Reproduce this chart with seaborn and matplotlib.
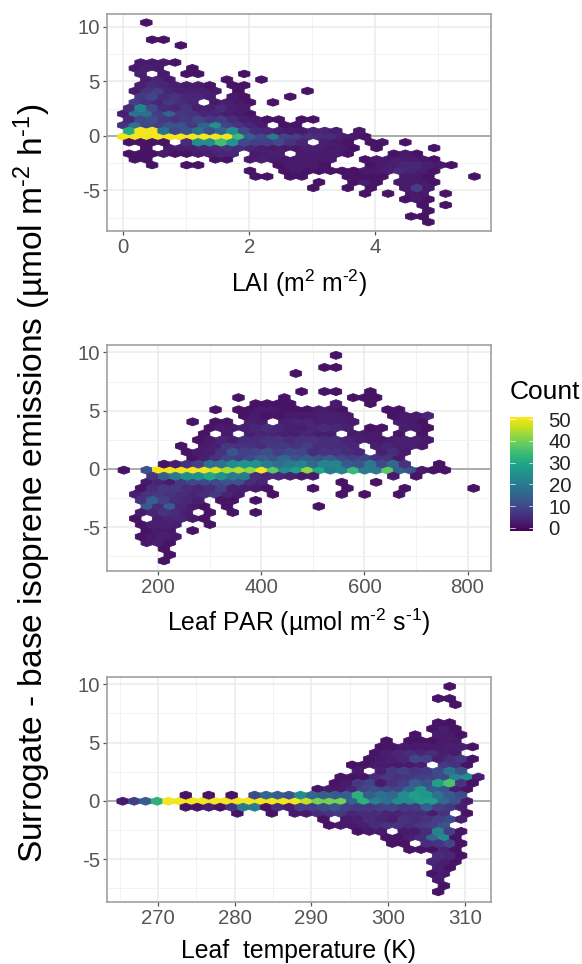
import numpy as np
import pandas as pd
import matplotlib
matplotlib.use("Agg")
import matplotlib.pyplot as plt
from matplotlib.colors import Normalize
from matplotlib.cm import ScalarMappable
import seaborn as sns

# each bin row: (row number, first column, counts from that column on)
lai_bins = [
    (20, 2, [1]), (17, 2, [1, 1]), (16, 5, [1]),
    (13, 1, [2, 2, 2, 1]), (12, 1, [2, 3, 2, 0, 0, 1]),
    (11, 1, [3, 0, 2, 0, 1, 1]), (11, 10, [1]),
    (10, 2, [3, 4, 2]), (10, 9, [1]), (10, 12, [1]),
    (9, 1, [3, 5, 4, 3, 2, 2, 1]), (9, 9, [1, 1]),
    (8, 1, [2, 6, 8, 4, 3, 3, 3, 2]), (8, 10, [1]), (8, 16, [1]),
    (7, 1, [7, 9, 5, 6, 4, 4, 3]), (7, 9, [2, 1]), (7, 14, [1]),
    (6, 1, [8, 6, 4, 7, 5, 4]), (6, 8, [2, 3, 2, 1]), (6, 13, [1]),
    (5, 0, [5, 22, 10, 5, 4, 6, 3, 3, 5, 3, 2]),
    (4, 0, [3, 18, 18, 8, 15, 7, 6, 4, 4, 3, 2, 1]),
    (3, 0, [4, 10, 11, 7, 6, 7, 9, 7, 8, 5, 3, 2, 1, 1]), (3, 15, [1, 1]),
    (2, 0, [6, 18, 10, 8, 12, 12, 7, 15, 25, 9, 6, 4, 2, 0, 1, 1]),
    (1, 0, [30, 50, 50, 18, 10, 12, 18, 12, 16, 24, 10, 5, 4, 3, 2, 2, 4, 4, 3, 0, 2]),
    (0, 0, [50, 50, 50, 50, 50, 50, 50, 50, 50, 50, 34, 14, 10, 20, 9, 8, 6, 5, 5, 3, 2, 1]),
    (-1, 0, [1, 1, 1, 1, 0, 5, 24, 24, 35, 26, 10, 8, 8, 10, 6, 4, 0, 3, 2, 1, 0, 1, 1, 0, 1]),
    (-2, 2, [1, 0, 2, 3, 3, 4, 5, 6, 5, 4, 3, 2, 2, 2, 3, 3, 2, 2, 1]), (-2, 22, [1]), (-2, 27, [1]),
    (-3, 0, [1, 1, 1, 2, 1, 1, 2, 3, 4, 4, 0, 2, 3, 3, 0, 2, 2, 2, 2, 1]), (-3, 23, [1, 2, 1]),
    (-4, 1, [1, 1]), (-4, 8, [1, 1]), (-4, 11, [2, 3, 2, 2, 2, 2, 2, 2]), (-4, 21, [1, 2, 2, 3, 3, 2, 1]),
    (-5, 2, [1]), (-5, 5, [1, 1]), (-5, 13, [1, 2, 2, 2, 1]), (-5, 21, [1, 2, 3, 4, 4, 3, 2, 1]),
    (-6, 11, [1]), (-6, 14, [1, 2, 1, 1, 1]), (-6, 19, [1, 1, 2, 2, 3, 5, 4, 3, 1]),
    (-7, 11, [1, 1]), (-7, 14, [1, 1]), (-7, 19, [1, 1, 1, 1]), (-7, 24, [2, 2, 1]), (-7, 30, [1]),
    (-8, 17, [1]), (-8, 20, [1, 3, 1]), (-8, 24, [2, 2, 2, 1]),
    (-9, 16, [1]), (-9, 19, [1]), (-9, 21, [1]), (-9, 24, [2, 8, 2]),
    (-10, 21, [1]), (-10, 23, [1]), (-10, 25, [2, 2]), (-10, 28, [1]),
    (-11, 24, [1, 2, 1]), (-12, 26, [1]), (-12, 28, [1]), (-13, 26, [1]),
    (-14, 25, [1, 1]), (-15, 26, [1]),
]

par_bins = [
    (19, 18, [1]), (17, 17, [1, 1]), (16, 15, [1]),
    (13, 15, [1]), (13, 17, [1, 1]), (13, 21, [1]),
    (12, 10, [1]), (12, 14, [1]), (12, 20, [1, 1, 1]),
    (11, 11, [1, 1, 1, 1]), (11, 18, [2]), (11, 21, [1]),
    (10, 8, [1]), (10, 10, [1, 1, 2, 2, 1, 1, 1, 2, 2, 1]), (10, 23, [1, 1]),
    (9, 10, [1, 2, 1, 1, 2, 2, 2, 3, 3, 2]), (9, 23, [1, 2, 2, 4]),
    (8, 6, [1]), (8, 8, [1, 1]), (8, 11, [3, 2, 0, 3, 4, 4, 3, 3, 3, 2]), (8, 24, [2, 2, 1]),
    (7, 7, [1, 2, 2, 3, 4, 5, 4, 3, 3, 4, 5, 4, 3]), (7, 21, [1, 1]), (7, 24, [3, 2, 1]),
    (6, 7, [1, 0, 2, 0, 3, 4, 4, 3, 3, 4, 3, 3]), (6, 20, [2, 2, 2]), (6, 24, [1, 0, 1]),
    (5, 6, [1, 2, 4, 3, 5, 5, 6, 6, 5, 6, 6, 5, 5, 4, 3, 2, 2, 3, 3, 3, 2]),
    (4, 5, [1, 0, 2, 3, 7, 6, 6, 5, 7, 7, 6, 8, 5, 5, 5, 4, 0, 3, 4, 3, 3, 2]),
    (3, 5, [1, 2, 3, 6, 12, 8, 9, 11, 8, 10, 9, 5, 6, 6, 5, 4, 0, 3, 5, 2]),
    (2, 6, [1, 3, 6, 9, 8, 10, 14, 12, 16, 12, 14, 12, 14, 10, 8, 9, 6, 6, 2]),
    (1, 3, [1, 3, 6, 8, 18, 18, 24, 26, 25, 20, 17, 20, 22, 16, 22, 22, 13, 12, 20, 10, 16, 6, 0, 0, 1]),
    (0, 0, [1, 0, 12, 50, 50, 50, 50, 50, 48, 44, 45, 42, 50, 38, 24, 28, 42, 30, 20, 22, 34, 20, 20, 38, 15, 12, 2, 1, 1]),
    (-1, 2, [6, 14, 20, 24, 25, 30, 25, 20, 20, 5, 4, 4, 3, 2, 2]), (-1, 23, [2]), (-1, 25, [1]),
    (-2, 2, [2, 4, 2, 7, 10, 10, 10, 12, 12, 5, 4]), (-2, 19, [1]), (-2, 22, [1]),
    (-3, 1, [1, 5, 7, 7, 5, 4, 5, 8, 3, 3, 2, 1]), (-3, 16, [1]), (-3, 19, [1]), (-3, 24, [1]), (-3, 30, [1]),
    (-4, 1, [3, 6, 7, 6, 5, 4, 5, 7, 4, 2, 0, 0, 1]), (-4, 19, [1]), (-4, 21, [1]), (-4, 24, [1]),
    (-5, 1, [6, 14, 8, 5, 4, 3]), (-5, 8, [1, 1]), (-5, 11, [1]),
    (-6, 2, [13, 5, 14, 4, 2, 1]), (-6, 9, [1]), (-6, 17, [1]),
    (-7, 1, [2, 4, 6, 5, 3]), (-7, 7, [1]), (-7, 9, [1]), (-7, 11, [1]),
    (-8, 1, [1, 0, 3, 4, 4, 2, 1]), (-9, 1, [1, 3, 3, 3]), (-9, 7, [1]),
    (-10, 2, [1, 2, 2]), (-10, 6, [1]), (-11, 1, [1, 2, 3, 2]),
    (-12, 2, [2, 3, 1]), (-13, 3, [1]), (-14, 4, [1]), (-15, 3, [1]),
]

temp_bins = [
    (19, 28, [1]), (17, 27, [1, 1]), (16, 29, [1]),
    (13, 27, [1, 1]), (12, 27, [1, 3, 1]), (11, 25, [1]), (11, 27, [2, 2, 1]),
    (10, 23, [1]), (10, 25, [1, 1, 1, 2, 2]),
    (9, 22, [1, 1, 2, 2, 2, 2, 3, 3, 1]),
    (8, 22, [1, 3, 4, 5, 4, 5, 3, 2]),
    (7, 21, [1, 2, 3, 4, 9, 8, 3, 5, 7, 1]),
    (6, 20, [1, 1, 2, 2, 2, 2, 3, 0, 7, 6, 1]),
    (5, 20, [2, 0, 3, 7, 8, 6, 7, 10, 18, 12]),
    (4, 19, [1, 1, 1, 5, 7, 6, 7, 8, 9, 10, 22, 24, 3]),
    (3, 18, [1, 2, 7, 9, 2, 6, 8, 14, 12, 28, 36, 6, 1]),
    (2, 17, [1, 2, 2, 4, 9, 11, 10, 9, 16, 26, 14, 12, 3, 1]),
    (1, 5, [1, 0, 1, 0, 1, 0, 10, 16, 14, 12, 24, 16, 14, 14, 14, 32, 14, 18, 16, 24, 28, 26, 18, 13, 10]),
    (0, 0, [2, 8, 14, 32, 50, 50, 50, 50, 50, 50, 50, 50, 50, 50, 50, 50, 46, 40, 40, 40, 15, 32, 22, 18, 24, 24, 28, 28, 16, 12, 2]),
    (-1, 5, [1, 1, 3, 1, 6, 20, 20, 1, 5, 3, 8, 8, 10, 12, 8, 7, 7, 8, 9, 7, 7, 14, 8, 7, 3]),
    (-2, 10, [1]), (-2, 13, [1]), (-2, 15, [2, 2, 5, 6, 7, 4, 5, 5, 4, 4, 5, 5, 3, 6]), (-2, 30, [1]),
    (-3, 17, [1, 0, 2, 3, 5, 4, 3, 6, 5, 6, 8, 10, 3]),
    (-4, 18, [1, 2, 2, 3, 5, 6, 6, 5, 7, 8, 12]),
    (-5, 20, [1, 2, 2, 0, 2, 2, 5, 22, 8, 1]),
    (-6, 23, [1, 1, 3, 5, 16, 24, 1]),
    (-7, 23, [1, 1, 0, 5, 6, 9, 1]),
    (-8, 25, [1, 1, 1, 4, 1]),
    (-9, 27, [5, 4, 1]), (-10, 27, [4, 3, 1]), (-11, 27, [3, 1]),
    (-12, 27, [1, 2]), (-13, 27, [2]), (-14, 28, [1]), (-15, 27, [1]),
]

# grid of each panel: first column, column step, row 0 height, row step
lai_grid = (0.0, 0.183, -0.06, 0.523)
par_grid = (133.2, 22.25, -0.11, 0.519)
temp_grid = (265.38, 1.497, -0.03, 0.518)

lai_ticks = [0, 2, 4]
par_ticks = [200, 400, 600, 800]
temp_ticks = [270, 280, 290, 300, 310]
y_ticks = [-5, 0, 5, 10]
count_ticks = [0, 10, 20, 30, 40, 50]

sns.set_theme(style="whitegrid")
plt.rcParams["font.family"] = ["Liberation Sans", "DejaVu Sans"]
plt.rcParams["mathtext.fontset"] = "custom"
plt.rcParams["mathtext.rm"] = "Liberation Sans"
plt.rcParams["mathtext.default"] = "rm"
plt.rcParams["axes.unicode_minus"] = False

W, H = 582, 964
cmap = sns.color_palette("viridis", as_cmap=True)
norm = Normalize(vmin=-1.5, vmax=51)


def bins_to_frame(bins, grid):
    x0, dx, y0, dy = grid
    rows = []
    for row, first, counts in bins:
        for i, c in enumerate(counts):
            if c > 0:
                shift = 0.5 if row % 2 else 0
                rows.append((x0 + (first + i + shift) * dx, y0 + row * dy, c))
    return pd.DataFrame(rows, columns=["x", "y", "count"])


def panel(bins, grid, box, xlim, ylim, xticks, xminor, yminor, xlabel, pad):
    left, top, right, bottom = box
    ax = fig.add_axes([left / W, 1 - bottom / H, (right - left) / W, (bottom - top) / H])
    df = bins_to_frame(bins, grid)
    x0, dx, y0, dy = grid
    low = y0 - 16 * dy
    ax.axhline(0, color="#a6a6a6", lw=1.3, zorder=1.5)
    ax.hexbin(df["x"], df["y"], C=df["count"], reduce_C_function=np.sum,
              gridsize=(34, 20), extent=(x0, x0 + 34 * dx, low, low + 40 * dy),
              cmap=cmap, norm=norm, linewidths=0.6, edgecolors="face", zorder=2)
    ax.set_xlim(xlim)
    ax.set_ylim(ylim)
    ax.set_xticks(xticks)
    ax.set_yticks(y_ticks)
    ax.set_xticks(xminor, minor=True)
    ax.set_yticks(yminor, minor=True)
    ax.grid(True, which="major", color="#ebebeb", lw=1.1)
    ax.grid(True, which="minor", color="#f2f2f2", lw=0.7)
    ax.set_axisbelow(True)
    ax.tick_params(which="major", length=3, width=0.9, color="#555555",
                   labelsize=14.7, labelcolor="#555555", pad=2,
                   bottom=True, left=True)
    ax.tick_params(which="minor", length=0)
    for s in ax.spines.values():
        s.set_color("#a0a0a0")
        s.set_linewidth(1.2)
    ax.set_xlabel(xlabel, fontsize=17.8, color="black", labelpad=pad)
    return ax


fig = plt.figure(figsize=(W / 100, H / 100), dpi=100)

panel(lai_bins, lai_grid, (106.7, 14, 490.7, 231), (-0.264, 5.84), (-8.72, 11.19),
      lai_ticks, [1, 3, 5], [-7.5, -2.5, 2.5, 7.5],
      r"LAI (m$^{2}$ m$^{\text{-2}}$)", 8)
panel(par_bins, par_grid, (106.7, 345, 490.7, 571), (100.0, 845.0), (-8.77, 10.64),
      par_ticks, [300, 500, 700], [-7.5, -2.5, 2.5, 7.5],
      r"Leaf PAR (µmol m$^{\text{-2}}$ s$^{\text{-1}}$)", 7)
panel(temp_bins, temp_grid, (106.7, 676.7, 490.7, 901.7), (263.3, 313.4), (-8.65, 10.65),
      temp_ticks, [265, 275, 285, 295, 305], [-7.5, -2.5, 2.5, 7.5],
      "Leaf  temperature (K)", 8)

fig.text(32 / W, 1 - 483 / H, r"Surrogate - base isoprene emissions (µmol m$^{\text{-2}}$ h$^{\text{-1}}$)",
         rotation=90, ha="center", va="center", fontsize=24.1, color="black")

cax = fig.add_axes([510 / W, 1 - 531 / H, 23.3 / W, 114 / H])
cbar = fig.colorbar(ScalarMappable(norm=norm, cmap=cmap), cax=cax)
cbar.set_ticks(count_ticks)
cbar.ax.tick_params(length=0, labelsize=14.7, labelcolor="#222222", pad=11)
cbar.outline.set_visible(False)
cbar.ax.grid(False)
for t in count_ticks:
    cbar.ax.plot([0, 0.2], [t, t], color="white", lw=0.5, transform=cbar.ax.get_yaxis_transform())
    cbar.ax.plot([0.8, 1], [t, t], color="white", lw=0.5, transform=cbar.ax.get_yaxis_transform())
fig.text(510 / W, 1 - 392 / H, "Count", fontsize=19, ha="left", va="center", color="black")

fig.savefig("out.png", dpi=100)
